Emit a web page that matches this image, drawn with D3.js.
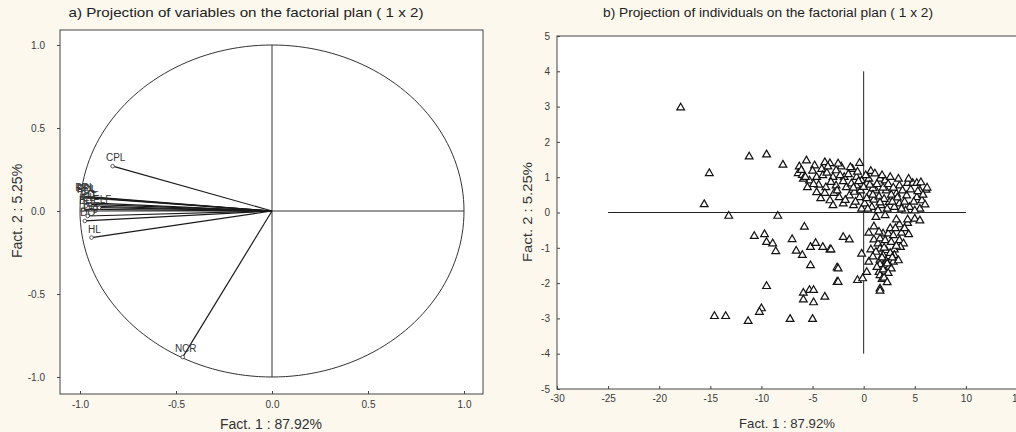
<!DOCTYPE html>
<html>
<head>
<meta charset="utf-8">
<script src="https://cdn.jsdelivr.net/npm/d3@7"></script>
<style>
  body { margin: 0; background: #fcf8ee; }
  svg { display: block; font-family: Arial, "Liberation Sans", sans-serif; }
</style>
</head>
<body>
<svg id="chart" width="1016" height="432"></svg>
<script>
// panel a: variables (coordinates on factor 1 and 2)
var varNames = ["CPL", "PRL", "PDL", "EPL", "ELF", "LF", "EL", "BD", "ED", "DO", "Dig", "HL", "NCR"];
var varX = [-0.83, -0.99, -0.98, -0.985, -0.90, -0.95, -0.97, -0.985, -0.975, -0.975, -0.96, -0.94, -0.465];
var varY = [0.27, 0.09, 0.08, 0.085, 0.02, 0.04, 0.03, 0.01, 0.05, -0.06, -0.03, -0.16, -0.88];

var ticksA = [-1, -0.5, 0, 0.5, 1];
var ticksBX = [-30, -25, -20, -15, -10, -5, 0, 5, 10, 15];
var ticksBY = [-5, -4, -3, -2, -1, 0, 1, 2, 3, 4, 5];

// panel b: individuals [fact1, fact2]
var individuals = [
  [-17.9, 2.97], [-15.1, 1.11], [-15.6, 0.23], [-13.2, -0.10], [-11.2, 1.58], [-9.5, 1.64],
  [-8.4, -0.10], [-7.9, 1.35], [-5.6, 1.47], [-5.8, -0.41], [-10.7, -0.67], [-9.7, -0.62],
  [-9.5, -0.84], [-8.9, -0.88], [-8.6, -1.10], [-7.0, -0.76], [-6.6, -1.09], [-6.0, -1.21],
  [-5.2, -0.98], [-4.7, -0.87], [-4.0, -0.98], [-3.3, -1.05], [-5.2, -1.50], [-2.6, -1.56],
  [-2.6, -1.97], [-9.5, -2.09], [-5.9, -2.28], [-5.3, -2.20], [-4.9, -2.20], [-5.9, -2.47],
  [-4.9, -2.55], [-3.8, -2.39], [-10.0, -2.72], [-10.2, -2.82], [-14.6, -2.94], [-13.5, -2.94],
  [-11.3, -3.08], [-7.2, -3.02], [-5.0, -3.02],
  // upper cluster
  [-6.3, 1.30], [-6.4, 1.11], [-6.0, 1.06], [-4.8, 1.33], [-3.8, 1.42], [-3.3, 1.39],
  [-4.1, 1.23], [-2.2, 1.30], [-2.7, 1.19], [-1.1, 1.23], [0.7, 1.17], [-5.3, 0.90],
  [-4.6, 1.00], [-4.0, 1.05], [-3.0, 1.00], [-1.9, 1.00], [-0.7, 1.00], [-0.2, 0.90],
  [-5.5, 0.71], [-4.6, 0.57], [-3.7, 0.71], [-2.7, 0.76], [-1.7, 0.71], [-0.7, 0.76],
  [0.3, 0.81], [1.6, 0.95], [2.1, 0.90], [3.5, 0.76], [4.3, 0.83], [4.8, 0.83],
  [5.2, 0.83], [6.1, 0.64], [5.5, 0.62], [-3.3, 0.34], [-2.4, 0.43], [-1.4, 0.48],
  [-0.4, 0.43], [0.6, 0.53], [1.2, 0.62], [2.2, 0.62], [3.2, 0.53], [4.2, 0.48],
  [5.2, 0.43], [5.7, 0.34], [-3.0, 0.20], [-2.0, 0.25], [-1.0, 0.20], [-0.2, 0.10],
  [0.8, 0.15], [1.7, 0.20], [2.5, 0.29], [3.5, 0.25], [4.5, 0.15], [5.5, 0.10],
  [1.4, 0.06], [0.1, 0.25],
  [-5.9, 0.95], [-5.0, 1.18], [-4.4, 0.78], [-3.6, 1.12], [-3.2, 0.86], [-2.9, 0.55],
  [-2.3, 1.05], [-2.0, 0.88], [-1.5, 1.08], [-1.2, 0.82], [-0.9, 0.58], [-0.5, 0.88],
  [-0.3, 0.62], [0.0, 0.72], [0.3, 0.40], [0.5, 0.95], [0.9, 0.68], [1.0, 0.36],
  [1.3, 0.80], [1.5, 0.45], [1.9, 0.70], [2.0, 0.38], [2.4, 0.80], [2.7, 0.50],
  [2.9, 0.70], [3.0, 0.15], [3.3, 0.42], [3.8, 0.62], [4.0, 0.30], [4.6, 0.65],
  [4.9, 0.30], [5.3, 0.60], [5.8, 0.50], [6.2, 0.70], [6.0, 0.22], [-4.2, 0.40],
  [-3.8, 0.55], [-1.8, 0.35], [-0.8, 0.30], [0.4, 0.10], [2.3, 0.10], [4.1, 0.05],
  [-4.9, 0.80], [-6.1, 1.20], [-3.5, 1.30], [-2.5, 1.38], [-1.3, 1.28], [-0.6, 1.15],
  [0.2, 1.05], [1.1, 1.10], [1.8, 1.05], [2.6, 1.00], [3.4, 0.95], [4.4, 0.95],
  [5.6, 0.85], [-2.6, 0.62], [-1.0, 0.70], [0.6, 0.78], [1.6, 0.28], [2.8, 0.30],
  [3.7, 0.10], [5.0, 0.05], [-0.4, 1.40], [0.9, 0.50], [-5.7, 1.00],
  // lower right cluster
  [1.2, -0.13], [2.1, -0.08], [3.5, -0.34], [4.3, -0.30], [5.0, -0.18], [5.5, -0.23],
  [-2.0, -0.70], [-1.4, -0.77], [-3.2, -1.05], [0.5, -0.58], [1.0, -0.77], [1.4, -0.88],
  [1.9, -0.60], [2.4, -0.60], [2.9, -0.65], [3.7, -0.58], [4.4, -0.62], [1.6, -0.74],
  [2.1, -0.79], [2.7, -0.84], [3.5, -0.79], [3.9, -0.88], [0.7, -1.05], [1.6, -1.03],
  [2.2, -1.07], [3.0, -1.05], [3.6, -0.98], [-0.2, -1.17], [1.9, -1.21], [2.5, -1.24],
  [3.0, -1.21], [1.6, -1.34], [2.2, -1.38], [2.9, -1.40], [3.4, -1.36], [0.5, -1.40],
  [1.6, -1.47], [2.1, -1.50], [2.5, -1.55], [-2.5, -1.59], [2.7, -1.59], [1.5, -1.69],
  [0.3, -1.69], [1.6, -1.78], [1.8, -1.89], [-0.6, -1.92], [-0.1, -1.87], [-2.5, -1.97],
  [1.6, -2.16], [1.6, -2.22],
  [2.0, -1.00], [2.6, -1.15], [1.8, -1.28], [2.3, -1.45], [1.2, -1.12], [1.9, -1.62],
  [2.4, -1.72], [2.0, -1.85], [1.3, -1.55], [3.2, -0.95], [2.8, -1.28], [4.0, -0.45],
  [1.0, -0.40], [2.6, -0.45], [1.5, -0.55], [3.1, -0.45], [0.9, -1.25], [2.3, -1.98],
  [4.3, -0.20], [3.2, -0.20]
];

var svg = d3.select("#chart");
var lineColor = "#1a1a1a";
var tickColor = "#3a3a3a";

function styleAxis(g) {
  g.select(".domain").remove();
  g.selectAll(".tick line").attr("stroke", "#444");
  g.selectAll(".tick text")
    .attr("fill", tickColor)
    .style("font-size", "10px")
    .style("font-family", "Arial, 'Liberation Sans', sans-serif");
}

// ---------- panel a ----------
var xA = d3.scaleLinear().domain([-1, 1]).range([80, 464]);
var yA = d3.scaleLinear().domain([-1, 1]).range([377, 45]);
var frameA = { left: 60, right: 483, top: 30, bottom: 394 };

svg.append("rect")
  .attr("x", frameA.left).attr("y", frameA.top)
  .attr("width", frameA.right - frameA.left)
  .attr("height", frameA.bottom - frameA.top)
  .attr("fill", "#fff")
  .attr("stroke", "#444");

svg.append("g")
  .attr("transform", "translate(0," + frameA.bottom + ")")
  .call(d3.axisBottom(xA).tickValues(ticksA).tickSizeInner(-3).tickSizeOuter(0).tickPadding(7)
    .tickFormat(function(d) { return d.toFixed(1); }))
  .call(styleAxis);

svg.append("g")
  .attr("transform", "translate(" + frameA.left + ",0)")
  .call(d3.axisLeft(yA).tickValues(ticksA).tickSizeInner(3).tickSizeOuter(0).tickPadding(12)
    .tickFormat(function(d) { return d.toFixed(1); }))
  .call(styleAxis);

// unit circle
var angles = d3.range(0, 361, 2);
svg.append("path")
  .datum(angles)
  .attr("fill", "none")
  .attr("stroke", "#333")
  .attr("stroke-width", 1)
  .attr("d", d3.line()
    .x(function(a) { return xA(Math.cos(a * Math.PI / 180)); })
    .y(function(a) { return yA(Math.sin(a * Math.PI / 180)); }));

// cross lines
svg.append("line")
  .attr("x1", xA(-1)).attr("x2", xA(1)).attr("y1", yA(0)).attr("y2", yA(0))
  .attr("stroke", "#333");
svg.append("line")
  .attr("x1", xA(0)).attr("x2", xA(0)).attr("y1", yA(-1)).attr("y2", yA(1))
  .attr("stroke", "#333");

var vars = varNames.map(function(n, i) { return { name: n, x: varX[i], y: varY[i] }; });

svg.append("g").selectAll("line")
  .data(vars).enter().append("line")
  .attr("x1", xA(0)).attr("y1", yA(0))
  .attr("x2", function(d) { return xA(d.x); })
  .attr("y2", function(d) { return yA(d.y); })
  .attr("stroke", lineColor).attr("stroke-width", 1.2);

svg.append("g").selectAll("circle")
  .data(vars).enter().append("circle")
  .attr("cx", function(d) { return xA(d.x); })
  .attr("cy", function(d) { return yA(d.y); })
  .attr("r", 1.8)
  .attr("fill", "#fff").attr("stroke", "#333").attr("stroke-width", 0.8);

svg.append("g").selectAll("text")
  .data(vars).enter().append("text")
  .attr("x", function(d) { return xA(d.x) + 3; })
  .attr("y", function(d) { return yA(d.y) - 5; })
  .attr("text-anchor", "middle")
  .style("font-size", "10px")
  .attr("fill", "#333")
  .text(function(d) { return d.name; });

svg.append("text")
  .attr("x", 246).attr("y", 17)
  .attr("text-anchor", "middle")
  .attr("textLength", 355).attr("lengthAdjust", "spacingAndGlyphs")
  .style("font-size", "13px").attr("fill", "#222")
  .text("a) Projection of variables on the factorial plan (  1 x   2)");

svg.append("text")
  .attr("x", 271).attr("y", 429)
  .attr("text-anchor", "middle")
  .style("font-size", "14px").attr("fill", "#333")
  .text("Fact. 1  : 87.92%");

svg.append("text")
  .attr("transform", "translate(22,211) rotate(-90)")
  .attr("text-anchor", "middle")
  .style("font-size", "14px").attr("fill", "#333")
  .text("Fact. 2  : 5.25%");

// ---------- panel b ----------
var xB = d3.scaleLinear().domain([-30, 15]).range([557, 1017]);
var yB = d3.scaleLinear().domain([-5, 5]).range([389, 36]);

svg.append("rect")
  .attr("x", xB(-30)).attr("y", yB(5))
  .attr("width", xB(15) - xB(-30))
  .attr("height", yB(-5) - yB(5))
  .attr("fill", "#fff")
  .attr("stroke", "#444");

svg.append("g")
  .attr("transform", "translate(0," + yB(-5) + ")")
  .call(d3.axisBottom(xB).tickValues(ticksBX).tickSizeInner(-3).tickSizeOuter(0).tickPadding(6)
    .tickFormat(function(d) { return String(d); }))
  .call(styleAxis);

svg.append("g")
  .attr("transform", "translate(" + xB(-30) + ",0)")
  .call(d3.axisLeft(yB).tickValues(ticksBY).tickSizeInner(-3).tickSizeOuter(0).tickPadding(7)
    .tickFormat(function(d) { return String(d); }))
  .call(styleAxis);

svg.append("line")
  .attr("x1", xB(-25)).attr("x2", xB(10)).attr("y1", yB(0)).attr("y2", yB(0))
  .attr("stroke", "#222");
svg.append("line")
  .attr("x1", xB(0)).attr("x2", xB(0)).attr("y1", yB(4)).attr("y2", yB(-4))
  .attr("stroke", "#222");

var tri = d3.symbol().type(d3.symbolTriangle).size(26);
svg.append("g").selectAll("path")
  .data(individuals).enter().append("path")
  .attr("transform", function(d) { return "translate(" + xB(d[0]) + "," + yB(d[1]) + ")"; })
  .attr("d", tri)
  .attr("fill", "#fff")
  .attr("stroke", "#111")
  .attr("stroke-width", 1.2);

svg.append("text")
  .attr("x", 768).attr("y", 17)
  .attr("text-anchor", "middle")
  .attr("textLength", 330).attr("lengthAdjust", "spacingAndGlyphs")
  .style("font-size", "12.5px").attr("fill", "#222")
  .text("b) Projection of individuals on the factorial plan (  1 x  2)");

svg.append("text")
  .attr("x", 787).attr("y", 428)
  .attr("text-anchor", "middle")
  .attr("textLength", 96).attr("lengthAdjust", "spacingAndGlyphs")
  .style("font-size", "13px").attr("fill", "#333")
  .text("Fact. 1 : 87.92%");

svg.append("text")
  .attr("transform", "translate(532,212) rotate(-90)")
  .attr("text-anchor", "middle")
  .attr("textLength", 100).attr("lengthAdjust", "spacingAndGlyphs")
  .style("font-size", "13px").attr("fill", "#333")
  .text("Fact. 2 : 5.25%");
</script>
</body>
</html>
